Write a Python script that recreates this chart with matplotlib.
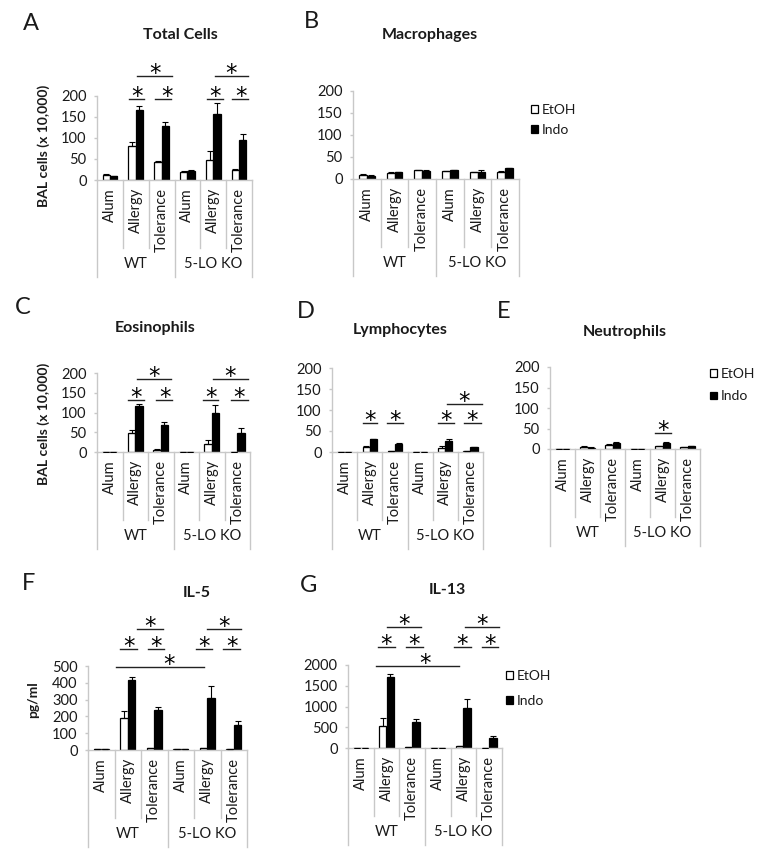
import matplotlib
matplotlib.use('Agg')
import matplotlib.pyplot as plt
from matplotlib.lines import Line2D
from matplotlib.patches import Patch
import matplotlib.transforms as mtransforms

plt.rcParams['font.family'] = ['Lato', 'DejaVu Sans']

# ---------------- data ----------------
categories = ['Alum', 'Allergy', 'Tolerance', 'Alum', 'Allergy', 'Tolerance']
groups = ['WT', '5-LO KO']
series = ['EtOH', 'Indo']

total_etoh = [12, 80, 42, 19, 48, 23]
total_etoh_err = [2, 10, 2, 2, 20, 2]
total_indo = [9, 165, 127, 21, 157, 94]
total_indo_err = [1, 10, 10, 2, 25, 16]

mac_etoh = [10, 14, 20, 18, 15, 16]
mac_etoh_err = [1, 1, 1, 1, 2, 2]
mac_indo = [7, 16, 19, 20, 17, 24]
mac_indo_err = [1, 1, 1, 1, 3, 2]

eos_etoh = [1, 48, 6, 1, 20, 1]
eos_etoh_err = [0, 8, 1, 0, 10, 0]
eos_indo = [0, 117, 68, 0, 100, 47]
eos_indo_err = [0, 5, 7, 0, 18, 13]

lym_etoh = [1, 13, 3, 1, 10, 2]
lym_etoh_err = [0, 1, 0, 0, 4, 0]
lym_indo = [0, 30, 20, 0, 26, 12]
lym_indo_err = [0, 1, 1, 0, 5, 1]

neu_etoh = [1, 6, 10, 1, 7, 5]
neu_etoh_err = [0, 1, 1, 0, 1, 1]
neu_indo = [0, 3, 15, 0, 15, 7]
neu_indo_err = [0, 1, 2, 0, 2, 1]

il5_etoh = [8, 190, 12, 6, 12, 6]
il5_etoh_err = [0, 42, 2, 0, 2, 0]
il5_indo = [8, 415, 238, 6, 310, 148]
il5_indo_err = [0, 18, 20, 0, 68, 22]

il13_etoh = [10, 540, 15, 10, 40, 10]
il13_etoh_err = [0, 185, 0, 0, 5, 0]
il13_indo = [10, 1720, 620, 10, 960, 240]
il13_indo_err = [0, 60, 80, 0, 220, 40]

# significance brackets: (x start, x end, y level, star x)
sig_total = [(0.72, 1.32, 192, 1.05), (1.75, 2.38, 192, 2.22), (1.05, 2.40, 246, 1.75),
             (3.76, 4.38, 192, 4.07), (4.73, 5.35, 192, 5.08), (4.07, 5.35, 246, 4.69)]
sig_mac = []
sig_eos = [(0.72, 1.34, 132, 1.03), (1.81, 2.44, 132, 2.18), (1.07, 2.40, 185, 1.73),
           (3.67, 4.25, 132, 3.98), (4.75, 5.42, 132, 5.08), (4.05, 5.42, 185, 4.73)]
sig_lym = [(0.73, 1.29, 69, 1.01), (1.69, 2.32, 69, 2.0), (3.71, 4.35, 69, 4.03),
           (4.74, 5.42, 69, 5.08), (4.07, 5.46, 114, 4.76)]
sig_neu = [(3.70, 4.34, 39, 4.02)]
sig_il5 = [(0.56, 3.88, 494, 2.55), (0.71, 1.35, 601, 1.03), (1.78, 2.37, 601, 2.08),
           (1.35, 2.33, 720, 1.84), (3.57, 4.17, 601, 3.87), (4.60, 5.24, 601, 4.92),
           (3.99, 5.27, 720, 4.63)]
sig_il13 = [(0.59, 3.82, 1976, 2.52), (0.67, 1.33, 2434, 1.0), (1.76, 2.42, 2434, 2.09),
            (1.02, 2.34, 2916, 1.68), (3.63, 4.29, 2434, 3.96), (4.72, 5.34, 2434, 5.03),
            (4.06, 5.38, 2916, 4.72)]

# ---------------- figure ----------------
W, H = 764, 856
fig = plt.figure(figsize=(W / 100, H / 100), dpi=100)
fig.patch.set_facecolor('white')

AXC = '#c8c8c8'
TXT = '#1a1a1a'
BW = 0.286


def fy(py):
    return 1 - py / H


def fx(px):
    return px / W


def panel(box, etoh, etoh_err, indo, indo_err, ymax, ystep, sigs, title, title_xy,
          letter, letter_xy, ylabel=None, ylabel_xy=None, legend=None):
    l, t, r, b = box
    ax = fig.add_axes([fx(l), fy(b), fx(r - l), (b - t) / H])
    n = len(categories)
    xs = list(range(n))
    x0 = [x - BW / 2 for x in xs]
    x1 = [x + BW / 2 for x in xs]
    ax.bar(x0, etoh, BW, color='white', edgecolor='black', linewidth=0.9, zorder=2)
    ax.bar(x1, indo, BW, color='black', edgecolor='black', linewidth=0.9, zorder=2)
    ax.errorbar(x0, etoh, yerr=[[0] * n, etoh_err], fmt='none', ecolor='black',
                elinewidth=0.8, capsize=2.4, capthick=0.8, zorder=3)
    ax.errorbar(x1, indo, yerr=[[0] * n, indo_err], fmt='none', ecolor='black',
                elinewidth=0.8, capsize=2.4, capthick=0.8, zorder=3)
    ax.set_xlim(-0.5, n - 0.5)
    ax.set_ylim(0, ymax)
    ax.set_yticks(list(range(0, ymax + 1, ystep)))
    ax.set_xticks([])
    for s in ['top', 'right']:
        ax.spines[s].set_visible(False)
    for s in ['left', 'bottom']:
        ax.spines[s].set_color(AXC)
        ax.spines[s].set_linewidth(1.0)
    ax.tick_params(axis='y', length=2.5, width=1.0, color=AXC, pad=5,
                   labelsize=10.5, labelcolor=TXT)
    ax.patch.set_alpha(0)

    tr = mtransforms.blended_transform_factory(ax.transData, fig.transFigure)
    # category separators and labels
    for i in range(n + 1):
        xsep = i - 0.5
        if i % 3 == 0:
            y_end = b + 97
        else:
            y_end = b + 68
        fig.add_artist(Line2D([xsep, xsep], [fy(b), fy(y_end)], transform=tr,
                              color=AXC, lw=1.0))
    for i, c in enumerate(categories):
        fig.text(i, fy(b + 8), c, rotation=90, ha='center', va='top',
                 fontsize=10.5, color=TXT, transform=tr)
    for gi, g in enumerate(groups):
        fig.text(gi * 3 + 1, fy(b + 84), g, ha='center', va='center',
                 fontsize=10.5, color=TXT, transform=tr)

    # significance
    for (xa, xb, yl, xstar) in sigs:
        ax.plot([xa, xb], [yl, yl], color='#222222', lw=1.0, clip_on=False, zorder=4)
        ax.annotate('*', xy=(xstar, yl), xytext=(0, -3), textcoords='offset points',
                    ha='center', va='baseline', fontsize=16.5, color='black',
                    family='DejaVu Sans', annotation_clip=False)

    fig.text(fx(title_xy[0]), fy(title_xy[1]), title, ha='center', va='center',
             fontsize=11.5, fontweight='bold', color=TXT)
    fig.text(fx(letter_xy[0]), fy(letter_xy[1]), letter, ha='center', va='center',
             fontsize=17, color=TXT)
    if ylabel:
        fig.text(fx(ylabel_xy[0]), fy(ylabel_xy[1]), ylabel, rotation=90, ha='center',
                 va='center', fontsize=10, fontweight='bold', color=TXT)
    if legend:
        lx, ly, sp = legend
        handles = [Patch(facecolor='white', edgecolor='black', linewidth=0.9),
                   Patch(facecolor='black', edgecolor='black', linewidth=0.9)]
        ax.legend(handles, series, loc='upper left', bbox_to_anchor=(fx(lx), fy(ly)),
                  bbox_transform=fig.transFigure, frameon=False, fontsize=10,
                  handlelength=0.5, handleheight=0.5, handletextpad=0.25,
                  labelspacing=sp, borderpad=0, borderaxespad=0,
                  labelcolor=TXT)
    return ax


panel((97, 95.7, 252, 180), total_etoh, total_etoh_err, total_indo, total_indo_err,
      200, 50, sig_total, 'Total Cells', (180, 35), 'A', (31, 23),
      'BAL cells (x 10,000)', (44, 146))
panel((353, 91, 519, 179), mac_etoh, mac_etoh_err, mac_indo, mac_indo_err,
      200, 50, sig_mac, 'Macrophages', (430, 35), 'B', (311, 22),
      legend=(531, 104, 0.55))
panel((97, 373, 250, 452), eos_etoh, eos_etoh_err, eos_indo, eos_indo_err,
      200, 50, sig_eos, 'Eosinophils', (155, 328), 'C', (23, 308),
      'BAL cells (x 10,000)', (44, 424))
panel((332, 368, 483, 452), lym_etoh, lym_etoh_err, lym_indo, lym_indo_err,
      200, 50, sig_lym, 'Lymphocytes', (400, 330), 'D', (306, 311))
panel((550, 367, 700, 449), neu_etoh, neu_etoh_err, neu_indo, neu_indo_err,
      200, 50, sig_neu, 'Neutrophils', (625, 332), 'E', (504, 312),
      legend=(710, 368, 0.75))
panel((88, 666, 247, 750), il5_etoh, il5_etoh_err, il5_indo, il5_indo_err,
      500, 100, sig_il5, 'IL-5', (197, 593), 'F', (29, 584),
      'pg/ml', (33, 700))
panel((348, 665, 502, 748), il13_etoh, il13_etoh_err, il13_indo, il13_indo_err,
      2000, 500, sig_il13, 'IL-13', (447, 590), 'G', (309, 585),
      legend=(506, 670, 0.95))

fig.savefig('out.png', dpi=100, facecolor='white')
